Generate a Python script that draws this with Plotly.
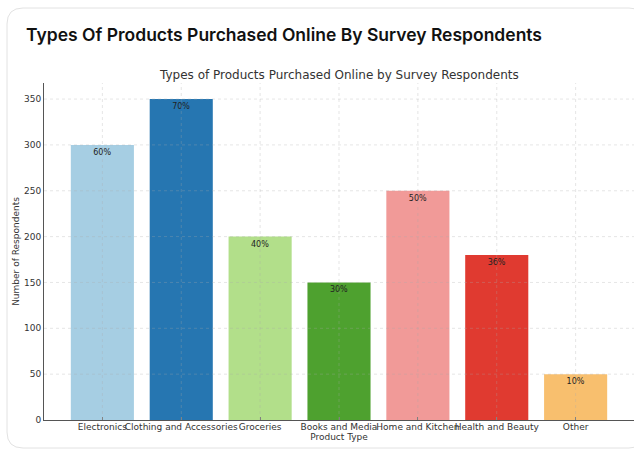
import plotly.graph_objects as go

categories = ["Electronics", "Clothing and Accessories", "Groceries", "Books and Media",
              "Home and Kitchen", "Health and Beauty", "Other"]
respondents = [300, 350, 200, 150, 250, 180, 50]
pct_labels = ["60%", "70%", "40%", "30%", "50%", "36%", "10%"]
bar_colors = ["#a6cee3", "#2676b1", "#b2df8a", "#4ea12f", "#f19a98", "#e03a30", "#f8bf6e"]
y_ticks = [0, 50, 100, 150, 200, 250, 300, 350]

W, H = 634, 450
ML, MR, MT, MB = 44, 0, 83, 30
PW, PH = W - ML - MR, H - MT - MB
X_RANGE = [-0.74, 6.74]
Y_RANGE = [0, 367.5]


def px_x(p):
    return (p - ML) / PW


def px_y(p):
    return (H - MB - p) / PH


fig = go.Figure()
fig.add_trace(go.Bar(
    x=list(range(len(categories))),
    y=respondents,
    width=0.8,
    marker=dict(color=bar_colors, line=dict(width=0)),
    text=pct_labels,
    textposition="inside",
    insidetextanchor="end",
    textfont=dict(family="DejaVu Sans", size=8, color="#222222"),
    textangle=0,
    hoverinfo="x+y",
))

# translucent grid drawn over the bars
grid_line = dict(color="rgba(170,170,170,0.3)", width=1, dash="dot")
for i in range(len(categories)):
    fig.add_shape(type="line", xref="x", yref="paper", x0=i, x1=i, y0=0, y1=1,
                  line=grid_line, layer="above")
for v in y_ticks[1:]:
    fig.add_shape(type="line", xref="paper", yref="y", x0=0, x1=1, y0=v, y1=v,
                  line=grid_line, layer="above")

# rounded card outline behind the chart
x0, x1 = px_x(7), px_x(645)
y0, y1 = px_y(448), px_y(8)
rx, ry = 16 / PW, 16 / PH
card_path = (
    f"M {x0 + rx},{y1} L {x1 - rx},{y1} Q {x1},{y1} {x1},{y1 - ry} "
    f"L {x1},{y0 + ry} Q {x1},{y0} {x1 - rx},{y0} "
    f"L {x0 + rx},{y0} Q {x0},{y0} {x0},{y0 + ry} "
    f"L {x0},{y1 - ry} Q {x0},{y1} {x0 + rx},{y1} Z"
)
fig.add_shape(type="path", path=card_path, xref="paper", yref="paper",
              line=dict(color="#e2e2e2", width=1), fillcolor="rgba(0,0,0,0)", layer="below")

fig.add_annotation(
    text="Types Of Products Purchased Online By Survey Respondents",
    xref="paper", yref="paper", x=px_x(24), y=px_y(35),
    xanchor="left", yanchor="middle", showarrow=False,
    font=dict(family="Inter, Liberation Sans, sans-serif", size=17.5, color="#111111", weight=600),
)
fig.add_annotation(
    text="Types of Products Purchased Online by Survey Respondents",
    xref="paper", yref="paper", x=0.5, y=px_y(75),
    xanchor="center", yanchor="middle", showarrow=False,
    font=dict(family="DejaVu Sans", size=12, color="#333333"),
)

fig.update_layout(
    width=W, height=H,
    margin=dict(l=ML, r=MR, t=MT, b=MB),
    paper_bgcolor="white", plot_bgcolor="white",
    showlegend=False,
    bargap=0.2,
    font=dict(family="DejaVu Sans", size=9, color="#333333"),
)
fig.update_xaxes(
    range=X_RANGE,
    tickmode="array", tickvals=list(range(len(categories))), ticktext=categories,
    tickangle=0, automargin=False, ticklabelstandoff=-2,
    tickfont=dict(family="DejaVu Sans", size=9, color="#333333"),
    showgrid=False,
    showline=True, linecolor="#555555", linewidth=1,
    ticks="inside", ticklen=3, tickcolor="#777777",
    title=dict(text="Product Type", font=dict(family="DejaVu Sans", size=9, color="#333333"), standoff=0),
    zeroline=False, fixedrange=True,
)
fig.update_yaxes(
    range=Y_RANGE,
    tickmode="array", tickvals=y_ticks, automargin=False,
    tickfont=dict(family="DejaVu Sans", size=9, color="#333333"),
    showgrid=False,
    showline=True, linecolor="#555555", linewidth=1,
    ticks="",
    title=dict(text="Number of Respondents", font=dict(family="DejaVu Sans", size=9, color="#333333"), standoff=2),
    zeroline=False, fixedrange=True,
)

fig.write_html("out.html")
